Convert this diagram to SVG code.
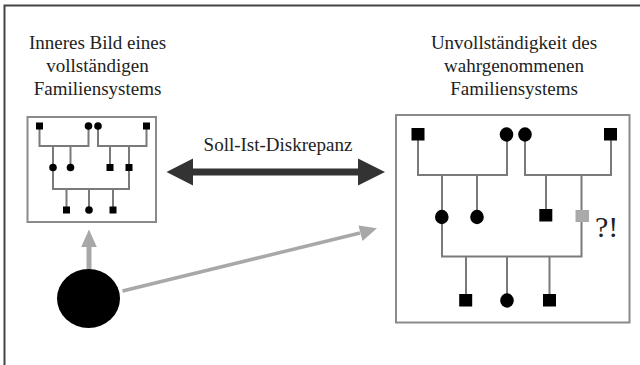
<svg xmlns="http://www.w3.org/2000/svg" width="640" height="365" viewBox="0 0 640 365">
<style>
.t{font-family:"Liberation Serif","Times New Roman",serif;font-size:19px;fill:#222;text-anchor:middle}
.box{fill:#fff;stroke:#8a8a8a;stroke-width:2}
.ln{fill:none;stroke:#7a7a7a;stroke-width:2}
.k{fill:#000}
.g{fill:#aaa}
</style>
<defs>
<marker id="ah" viewBox="0 0 10 10" refX="9" refY="5" markerWidth="4" markerHeight="4" orient="auto" markerUnits="strokeWidth">
<path d="M0,0 L10,5 L0,10 z" fill="#a8a8a8"/>
</marker>
</defs>
<rect width="640" height="365" fill="#fff"/>
<path d="M4.5,365 V5.5 H640" fill="none" stroke="#444" stroke-width="2"/>

<g id="title-left">
<text class="t" x="97.5" y="49">Inneres Bild eines</text>
<text class="t" x="97.5" y="72">vollständigen</text>
<text class="t" x="97.5" y="95">Familiensystems</text>
</g>
<g id="title-right">
<text class="t" x="514" y="49">Unvollständigkeit des</text>
<text class="t" x="514" y="72">wahrgenommenen</text>
<text class="t" x="514" y="95">Familiensystems</text>
</g>

<g id="box-left">
<rect class="box" x="27.5" y="117" width="128.5" height="105"/>
<path class="ln" d="M39.5,126 V146 H88.5 V126 M98,126 V146 H146.5 V126 M53,146 V167 M70.5,146 V167 M110,146 V167 M129,146 V167 M53,167 V189 H129 V167 M66.5,189 V210 M89,189 V210 M113,189 V210"/>
<rect class="k" x="36" y="122.5" width="7" height="7"/>
<circle class="k" cx="88.5" cy="126" r="3.8"/>
<circle class="k" cx="98" cy="126" r="3.8"/>
<rect class="k" x="143" y="122.5" width="7" height="7"/>
<circle class="k" cx="53" cy="167.5" r="3.8"/>
<circle class="k" cx="70.5" cy="167.5" r="3.8"/>
<rect class="k" x="106.5" y="164" width="7" height="7"/>
<rect class="k" x="125.5" y="164" width="7" height="7"/>
<rect class="k" x="63" y="206.5" width="7" height="7"/>
<circle class="k" cx="89" cy="210" r="3.8"/>
<rect class="k" x="109.5" y="206.5" width="7" height="7"/>
</g>

<g id="box-right">
<rect class="box" x="396" y="115" width="233.5" height="207.5"/>
<path class="ln" d="M418,134 V175 H507 V134 M525,134 V175 H611 V134 M442,175 V217 M477,175 V217 M546,175 V215 M581.5,175 V216 M442,217 V256.5 H581.5 V216 M466,256.5 V300 M507,256.5 V300 M549.5,256.5 V300"/>
<rect class="k" x="411.5" y="128" width="13" height="12.5"/>
<ellipse class="k" cx="506.5" cy="134.5" rx="6.8" ry="7.2"/>
<ellipse class="k" cx="525" cy="134.5" rx="6.8" ry="7.2"/>
<rect class="k" x="604" y="128" width="13" height="12.5"/>
<ellipse class="k" cx="441.8" cy="217" rx="6.8" ry="7.2"/>
<ellipse class="k" cx="477" cy="217" rx="6.8" ry="7.2"/>
<rect class="k" x="539.3" y="209" width="13" height="12.5"/>
<rect class="g" x="575.5" y="210" width="13.5" height="12"/>
<rect class="k" x="459.2" y="294" width="13" height="12.5"/>
<ellipse class="k" cx="507" cy="300.5" rx="6.8" ry="7.2"/>
<rect class="k" x="543" y="294" width="13" height="12.5"/>
<text x="595" y="236.5" font-family="'Liberation Serif','Times New Roman',serif" font-size="30" fill="#222">?!</text>
</g>

<g id="person">
<ellipse cx="88.5" cy="298.5" rx="31.5" ry="29.5" fill="#000"/>
</g>

<g id="connectors">
<polygon points="166.5,172 193,158.5 193,168.5 358,168.5 358,158.5 385,172 358,185.5 358,175.5 193,175.5 193,185.5" fill="#333"/>
<text class="t" x="278" y="151">Soll-Ist-Diskrepanz</text>
<line x1="89" y1="269" x2="89" y2="246" stroke="#a8a8a8" stroke-width="5"/>
<polygon points="89,229.5 81.2,247 96.8,247" fill="#a8a8a8"/>
<line x1="122.5" y1="291" x2="360" y2="233" stroke="#a8a8a8" stroke-width="3.5"/>
<polygon points="377,228.3 358.5,225.5 362.5,241" fill="#a8a8a8"/>
</g>
</svg>
